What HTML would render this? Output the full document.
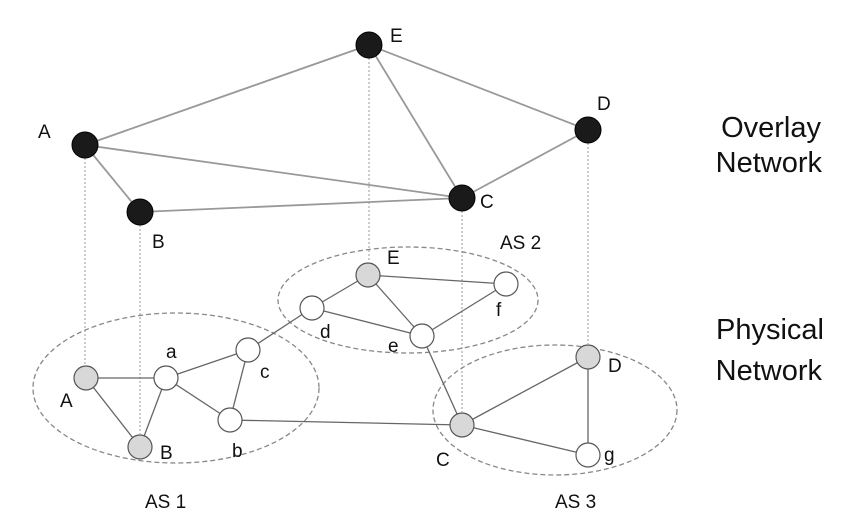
<!DOCTYPE html>
<html><head><meta charset="utf-8"><style>body{margin:0;background:#fff}svg{display:block}</style></head><body>
<svg width="855" height="528" xmlns="http://www.w3.org/2000/svg" font-family="Liberation Sans, sans-serif">
<g stroke="#999" stroke-width="1" stroke-dasharray="2,2">
<line x1="85" y1="158" x2="85" y2="365"/><line x1="140" y1="225" x2="140" y2="434"/>
<line x1="369" y1="58" x2="369" y2="262"/><line x1="462" y1="211" x2="462" y2="412"/>
<line x1="588" y1="143" x2="588" y2="344"/>
</g>
<g stroke="#888" fill="none" stroke-width="1.3" stroke-dasharray="5,3">
<ellipse cx="176" cy="388" rx="143" ry="75"/>
<ellipse cx="408" cy="300" rx="130" ry="53"/>
<ellipse cx="555" cy="410" rx="122" ry="65"/>
</g>
<g stroke="#999" stroke-width="1.8">
<line x1="85" y1="145" x2="369" y2="45"/><line x1="85" y1="145" x2="140" y2="212"/>
<line x1="85" y1="145" x2="462" y2="198"/><line x1="369" y1="45" x2="462" y2="198"/>
<line x1="369" y1="45" x2="588" y2="130"/><line x1="588" y1="130" x2="462" y2="198"/>
<line x1="140" y1="212" x2="462" y2="198"/>
</g>
<g stroke="#666" stroke-width="1.3">
<line x1="86" y1="378" x2="166" y2="378"/><line x1="86" y1="378" x2="140" y2="447"/>
<line x1="166" y1="378" x2="140" y2="447"/><line x1="166" y1="378" x2="248" y2="350"/>
<line x1="166" y1="378" x2="230" y2="420"/><line x1="248" y1="350" x2="230" y2="420"/>
<line x1="248" y1="350" x2="312" y2="308"/><line x1="312" y1="308" x2="368" y2="275"/>
<line x1="368" y1="275" x2="506" y2="284"/><line x1="368" y1="275" x2="422" y2="336"/>
<line x1="312" y1="308" x2="422" y2="336"/><line x1="422" y1="336" x2="506" y2="284"/>
<line x1="422" y1="336" x2="462" y2="425"/><line x1="230" y1="420" x2="462" y2="425"/>
<line x1="462" y1="425" x2="588" y2="357"/><line x1="462" y1="425" x2="588" y2="455"/>
<line x1="588" y1="357" x2="588" y2="455"/>
</g>
<g fill="#1a1a1a" stroke="#000">
<circle cx="85" cy="145" r="13"/><circle cx="369" cy="45" r="13"/><circle cx="588" cy="130" r="13"/>
<circle cx="462" cy="198" r="13"/><circle cx="140" cy="212" r="13"/>
</g>
<g stroke="#555" stroke-width="1.2">
<circle cx="86" cy="378" r="12" fill="#d8d8d8"/><circle cx="166" cy="378" r="12" fill="#fff"/>
<circle cx="248" cy="350" r="12" fill="#fff"/><circle cx="230" cy="420" r="12" fill="#fff"/>
<circle cx="140" cy="447" r="12" fill="#d8d8d8"/><circle cx="312" cy="308" r="12" fill="#fff"/>
<circle cx="368" cy="275" r="12" fill="#d8d8d8"/><circle cx="506" cy="284" r="12" fill="#fff"/>
<circle cx="422" cy="336" r="12" fill="#fff"/><circle cx="462" cy="425" r="12" fill="#d8d8d8"/>
<circle cx="588" cy="357" r="12" fill="#d8d8d8"/><circle cx="588" cy="455" r="12" fill="#fff"/>
</g>
<g font-size="19" fill="#111">
<text x="38" y="138">A</text><text x="390" y="42">E</text><text x="597" y="110">D</text>
<text x="480" y="208">C</text><text x="152" y="248">B</text>
<text x="500" y="249">AS 2</text><text x="145" y="508">AS 1</text><text x="555" y="508">AS 3</text>
<text x="60" y="407">A</text><text x="166" y="358">a</text><text x="260" y="378">c</text>
<text x="232" y="457">b</text><text x="160" y="459">B</text><text x="320" y="338">d</text>
<text x="387" y="264">E</text><text x="496" y="316">f</text><text x="388" y="352">e</text>
<text x="436" y="466">C</text><text x="608" y="372">D</text><text x="604" y="461">g</text>
</g>
<g font-size="29" fill="#111" text-anchor="end">
<text x="821" y="137">Overlay</text><text x="822" y="172">Network</text>
<text x="824" y="339">Physical</text><text x="822" y="380">Network</text>
</g>
</svg>
</body></html>
